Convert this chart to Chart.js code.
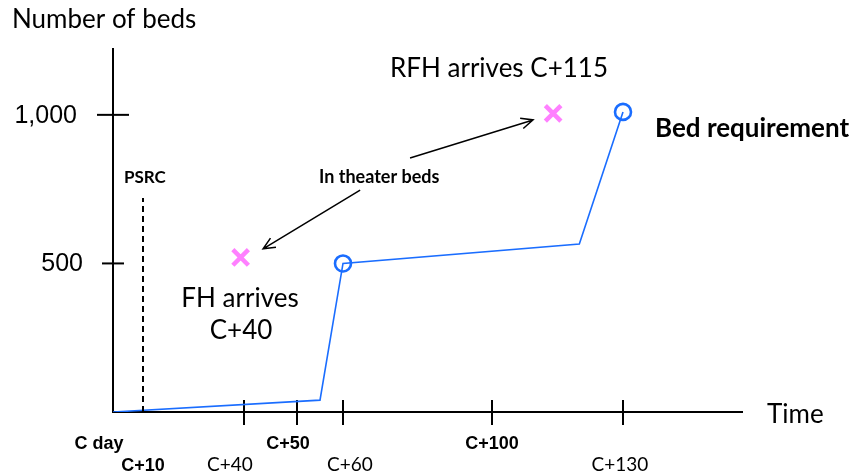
<!DOCTYPE html>
<html><head><meta charset="utf-8">
<script src="https://cdn.jsdelivr.net/npm/chart.js@4.4.1/dist/chart.umd.min.js"></script>
<style>html,body{margin:0;padding:0;background:#fff;}canvas{display:block;}</style>
</head><body>
<canvas id="c" width="857" height="476"></canvas>
<script>
// ---------- data ----------
const requirementDays = [0, 55, 60, 120, 130];
const requirementBeds = [0, 40, 500, 565, 1010];
const circledDays = [60, 130];
const arrivalDays = [39, 114];
const arrivalBeds = [520, 1005];
const xTickDays = [0, 10, 40, 50, 60, 100, 130];
const xTickLabels = ['C day', 'C+10', 'C+40', 'C+50', 'C+60', 'C+100', 'C+130'];
const yTickValues = [500, 1000];
const yTickLabels = ['500', '1,000'];
const psrcDay = 10;
const psrcTopBeds = 720;

// ---------- styling / layout ----------
const BLUE = '#1a6dff';
const PINK = '#ff80ff';
const LIGHT = '400 26px Lato, "Open Sans", sans-serif';
const xTickRow  = [0, 1, 1, 0, 1, 0, 1];
const xTickBold = [true, true, false, true, false, true, false];
const xTickNudge = [-14, 0, -14, -9, 7, 0, -3];
const xTickMarked = [false, false, true, true, true, true, true];
const yTickHalf = [11, 16];
const yLabelRight = [83, 77];

// Hand-drawn time axis: piecewise spacing of the original sketch
const WARP_DAYS = [0, 10, 40, 50, 60, 100, 130, 158];
const WARP_FRAC = [0, 30, 131, 184, 230, 379, 510, 630].map(v => v / 630);
function warp(v) {
  for (let i = 1; i < WARP_DAYS.length; i++) {
    if (v <= WARP_DAYS[i] || i === WARP_DAYS.length - 1) {
      const t = (v - WARP_DAYS[i-1]) / (WARP_DAYS[i] - WARP_DAYS[i-1]);
      return WARP_FRAC[i-1] + t * (WARP_FRAC[i] - WARP_FRAC[i-1]);
    }
  }
}
function unwarp(f) {
  for (let i = 1; i < WARP_FRAC.length; i++) {
    if (f <= WARP_FRAC[i] || i === WARP_FRAC.length - 1) {
      const t = (f - WARP_FRAC[i-1]) / (WARP_FRAC[i] - WARP_FRAC[i-1]);
      return WARP_DAYS[i-1] + t * (WARP_DAYS[i] - WARP_DAYS[i-1]);
    }
  }
}
class WarpScale extends Chart.LinearScale {
  getPixelForValue(v) { return this.getPixelForDecimal(warp(v)); }
  getValueForPixel(p) { return unwarp(this.getDecimalForPixel(p)); }
}
WarpScale.id = 'warp';
WarpScale.defaults = Chart.LinearScale.defaults;
Chart.register(WarpScale);

// annotation arrows (data coordinates)
const arrows = [
  { from: [64.6, 747], to: [43.6, 549] },
  { from: [78, 855], to: [109.4, 983] }
];

function arrow(ctx, x1, y1, x2, y2) {
  const a = Math.atan2(y2 - y1, x2 - x1), L = 13, s = 0.42;
  ctx.beginPath();
  ctx.moveTo(x1, y1); ctx.lineTo(x2, y2);
  ctx.moveTo(x2 - L * Math.cos(a - s), y2 - L * Math.sin(a - s));
  ctx.lineTo(x2, y2);
  ctx.lineTo(x2 - L * Math.cos(a + s), y2 - L * Math.sin(a + s));
  ctx.stroke();
}

const sketch = {
  id: 'sketch',
  beforeDatasetsDraw(chart) {
    const { ctx, chartArea } = chart;
    const xs = chart.scales.x, ys = chart.scales.y;
    const x0 = xs.getPixelForValue(0), y0 = ys.getPixelForValue(0);
    ctx.save();
    ctx.strokeStyle = '#000'; ctx.lineWidth = 2;
    ctx.beginPath();
    ctx.moveTo(x0, chartArea.top); ctx.lineTo(x0, y0 + 1);
    ctx.moveTo(x0 - 1, y0); ctx.lineTo(chartArea.right, y0);
    ctx.stroke();
    // y ticks
    ctx.fillStyle = '#000';
    ctx.font = '25px "Liberation Sans", Arial, sans-serif';
    ctx.textAlign = 'right'; ctx.textBaseline = 'alphabetic';
    yTickValues.forEach((v, i) => {
      const y = ys.getPixelForValue(v);
      ctx.beginPath(); ctx.moveTo(x0 - yTickHalf[i], y); ctx.lineTo(x0 + yTickHalf[i], y); ctx.stroke();
      ctx.fillText(yTickLabels[i], yLabelRight[i], y + 8);
    });
    // x ticks
    ctx.textAlign = 'center';
    xTickDays.forEach((d, i) => {
      const x = xs.getPixelForValue(d);
      if (xTickMarked[i]) {
        ctx.beginPath(); ctx.moveTo(x, y0 - 12); ctx.lineTo(x, y0 + 13); ctx.stroke();
      }
      ctx.font = xTickBold[i] ? 'bold 18px "Liberation Sans", Arial, sans-serif'
                              : '400 19px Lato, "Open Sans", sans-serif';
      ctx.fillText(xTickLabels[i], x + xTickNudge[i], xTickRow[i] ? 471 : 449);
    });
    ctx.restore();
  },
  afterDatasetsDraw(chart) {
    const { ctx } = chart;
    const xs = chart.scales.x, ys = chart.scales.y;
    ctx.save();
    ctx.fillStyle = '#000';
    ctx.textBaseline = 'alphabetic';
    ctx.textAlign = 'left';
    ctx.font = LIGHT;
    ctx.fillText('Number of beds', 12, 28);
    ctx.fillText('Time', 767, 423);
    ctx.fillText('RFH arrives C+115', 390, 77);
    ctx.textAlign = 'center';
    ctx.fillText('FH arrives', 240, 307);
    ctx.fillText('C+40', 241, 339);
    ctx.textAlign = 'left';
    ctx.font = 'bold 26px Lato, sans-serif';
    ctx.fillText('Bed requirement', 655, 137);
    ctx.font = 'bold 17px Lato, sans-serif';
    ctx.fillText('PSRC', 124, 183);
    ctx.font = 'bold 18px Lato, sans-serif';
    ctx.fillText('In theater beds', 319, 183);
    ctx.strokeStyle = '#000'; ctx.lineWidth = 1.5;
    arrows.forEach(a => arrow(ctx,
      xs.getPixelForValue(a.from[0]), ys.getPixelForValue(a.from[1]),
      xs.getPixelForValue(a.to[0]), ys.getPixelForValue(a.to[1])));
    ctx.restore();
  }
};

new Chart(document.getElementById('c'), {
  type: 'line',
  data: {
    datasets: [
      {
        label: 'PSRC',
        data: [{ x: psrcDay, y: 0 }, { x: psrcDay, y: psrcTopBeds }],
        borderColor: '#000', borderWidth: 2, borderDash: [6, 4],
        pointRadius: 0, fill: false
      },
      {
        label: 'Bed requirement',
        data: requirementDays.map((d, i) => ({ x: d, y: requirementBeds[i] })),
        borderColor: BLUE, borderWidth: 1.6, tension: 0, fill: false,
        pointStyle: 'circle',
        pointRadius: c => circledDays.includes(requirementDays[c.dataIndex]) ? 8 : 0,
        pointBorderWidth: 2.6,
        pointBorderColor: BLUE,
        pointBackgroundColor: 'rgba(0,0,0,0)'
      },
      {
        label: 'In theater beds',
        data: arrivalDays.map((d, i) => ({ x: d, y: arrivalBeds[i] })),
        showLine: false,
        pointStyle: 'crossRot', pointRadius: 11, pointBorderWidth: 4.5,
        pointBorderColor: PINK, pointBackgroundColor: PINK
      }
    ]
  },
  options: {
    responsive: false, animation: false, events: [],
    layout: { padding: { left: 113, right: 114, top: 48, bottom: 64 } },
    plugins: { legend: { display: false }, tooltip: { enabled: false } },
    scales: {
      x: { type: 'warp', min: 0, max: 158, display: false },
      y: { type: 'linear', min: 0, max: 1225, display: false }
    }
  },
  plugins: [sketch]
});
</script>
</body></html>
